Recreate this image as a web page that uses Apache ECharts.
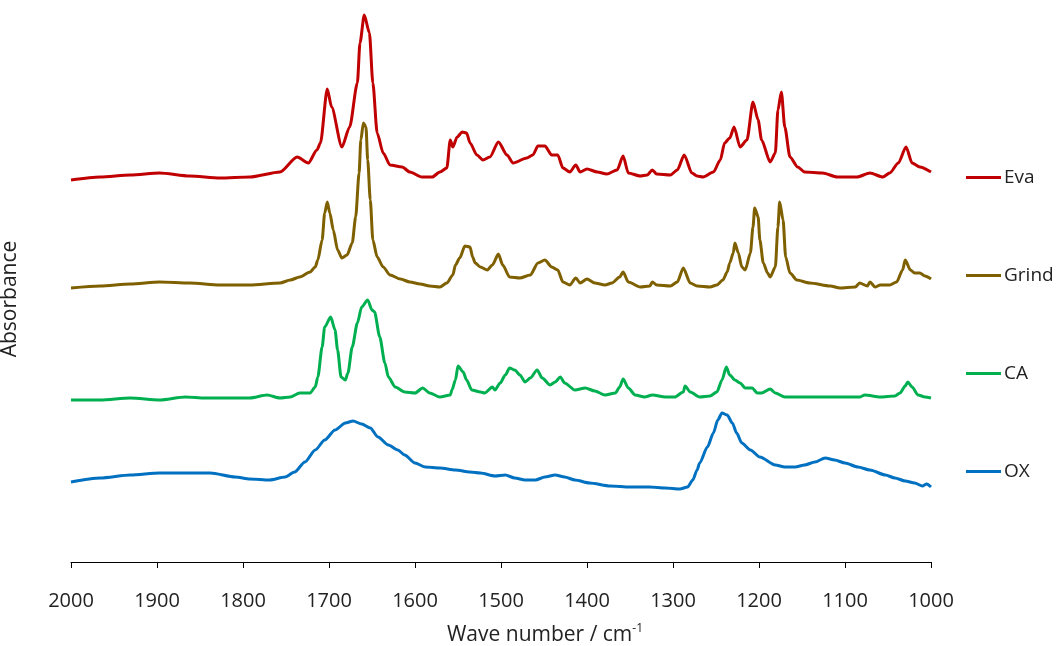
<!DOCTYPE html>
<html lang="en">

<head>
  <meta charset="utf-8">
  <title>FTIR spectra</title>
  <style>
    html, body {
      margin: 0;
      background-color: white;
    }

    .box {
      width: 1060px;
      height: 646px;
    }
  </style>
</head>

<body>
  <script type="text/javascript" src="https://cdn.jsdelivr.net/npm/echarts@6/dist/echarts.min.js"></script>

  <div class="box"></div>

  <script>
    // spectra: [wave number, absorbance (offset, a.u.)]
    var eva = [[2000,3.82],[1966,3.85],[1931,3.87],[1897,3.89],[1862,3.86],[1827,3.84],[1792,3.85],[1757,3.90],[1737,4.05],[1724,3.99],[1714,4.12],[1710,4.19],[1702,4.73],[1697,4.55],[1685,4.15],[1676,4.35],[1667,4.79],[1664,5.19],[1659,5.47],[1653,5.29],[1649,4.79],[1644,4.29],[1637,4.09],[1629,3.97],[1615,3.95],[1606,3.90],[1592,3.85],[1580,3.85],[1571,3.90],[1563,3.94],[1559,4.22],[1556,4.15],[1551,4.25],[1545,4.30],[1540,4.29],[1536,4.19],[1528,4.07],[1521,4.02],[1513,4.05],[1503,4.20],[1493,4.07],[1486,3.99],[1470,4.04],[1463,4.07],[1457,4.16],[1449,4.16],[1441,4.07],[1434,4.07],[1428,3.94],[1420,3.90],[1413,3.97],[1408,3.90],[1400,3.93],[1388,3.90],[1377,3.88],[1365,3.92],[1358,4.06],[1352,3.89],[1338,3.86],[1330,3.87],[1324,3.92],[1319,3.88],[1303,3.87],[1295,3.92],[1287,4.07],[1278,3.89],[1272,3.86],[1265,3.85],[1253,3.90],[1245,4.02],[1240,4.19],[1234,4.24],[1229,4.35],[1222,4.15],[1214,4.22],[1207,4.60],[1201,4.42],[1197,4.22],[1187,4.00],[1181,4.09],[1178,4.52],[1174,4.70],[1170,4.35],[1164,4.05],[1155,3.95],[1147,3.90],[1126,3.89],[1109,3.85],[1086,3.85],[1071,3.89],[1056,3.85],[1048,3.89],[1038,3.99],[1029,4.15],[1022,3.99],[1013,3.95],[1000,3.90]];

    var grind = [[2000,2.74],[1966,2.76],[1931,2.78],[1897,2.80],[1862,2.79],[1827,2.77],[1792,2.77],[1757,2.79],[1745,2.82],[1734,2.85],[1722,2.90],[1716,2.95],[1713,3.02],[1708,3.22],[1705,3.49],[1702,3.60],[1699,3.49],[1695,3.32],[1690,3.12],[1685,3.04],[1679,3.07],[1673,3.19],[1669,3.45],[1665,3.89],[1663,4.22],[1660,4.39],[1657,4.35],[1655,4.02],[1652,3.62],[1649,3.22],[1644,3.05],[1637,2.95],[1629,2.87],[1617,2.83],[1606,2.80],[1594,2.78],[1583,2.76],[1571,2.75],[1563,2.79],[1556,2.87],[1553,2.97],[1548,3.04],[1542,3.16],[1536,3.15],[1533,3.05],[1530,2.99],[1524,2.95],[1516,2.92],[1510,2.97],[1503,3.08],[1498,2.97],[1490,2.85],[1478,2.84],[1466,2.87],[1457,2.99],[1449,3.02],[1441,2.95],[1434,2.92],[1428,2.80],[1420,2.77],[1413,2.84],[1408,2.79],[1400,2.83],[1391,2.79],[1379,2.77],[1371,2.79],[1362,2.85],[1358,2.90],[1352,2.80],[1338,2.75],[1327,2.76],[1324,2.80],[1319,2.77],[1303,2.76],[1295,2.80],[1288,2.94],[1280,2.79],[1272,2.76],[1257,2.75],[1249,2.77],[1242,2.82],[1237,2.90],[1234,2.99],[1230,3.09],[1228,3.19],[1224,3.09],[1220,2.95],[1216,2.92],[1210,3.09],[1207,3.35],[1205,3.54],[1201,3.45],[1199,3.22],[1195,2.99],[1190,2.89],[1187,2.85],[1181,2.95],[1178,3.35],[1176,3.60],[1172,3.42],[1169,3.05],[1164,2.89],[1156,2.82],[1141,2.79],[1117,2.76],[1106,2.74],[1088,2.75],[1083,2.79],[1074,2.76],[1071,2.80],[1065,2.75],[1059,2.77],[1048,2.77],[1040,2.80],[1033,2.92],[1030,3.02],[1024,2.92],[1019,2.89],[1013,2.89],[1007,2.86],[1000,2.83]];

    var ca = [[2000,1.62],[1966,1.62],[1931,1.64],[1897,1.62],[1867,1.65],[1844,1.64],[1815,1.64],[1792,1.64],[1772,1.67],[1757,1.64],[1745,1.65],[1734,1.69],[1722,1.69],[1716,1.75],[1713,1.85],[1708,2.15],[1705,2.35],[1698,2.45],[1693,2.32],[1690,2.12],[1686,1.85],[1681,1.82],[1678,1.89],[1673,2.15],[1667,2.39],[1662,2.55],[1655,2.62],[1650,2.52],[1647,2.50],[1641,2.25],[1635,1.99],[1631,1.85],[1623,1.75],[1612,1.70],[1600,1.69],[1591,1.74],[1583,1.69],[1571,1.65],[1559,1.67],[1557,1.72],[1553,1.82],[1550,1.96],[1544,1.90],[1540,1.82],[1534,1.72],[1524,1.70],[1519,1.69],[1510,1.75],[1507,1.72],[1501,1.79],[1495,1.87],[1490,1.94],[1484,1.92],[1478,1.87],[1472,1.80],[1466,1.84],[1458,1.92],[1452,1.84],[1443,1.77],[1437,1.80],[1431,1.85],[1426,1.79],[1414,1.72],[1402,1.74],[1391,1.71],[1379,1.67],[1367,1.69],[1362,1.75],[1358,1.83],[1352,1.74],[1344,1.67],[1333,1.65],[1324,1.67],[1309,1.65],[1298,1.65],[1288,1.70],[1286,1.76],[1280,1.70],[1269,1.65],[1257,1.66],[1249,1.70],[1243,1.82],[1238,1.95],[1234,1.87],[1228,1.82],[1222,1.79],[1216,1.74],[1208,1.74],[1202,1.69],[1197,1.69],[1187,1.73],[1181,1.69],[1170,1.65],[1141,1.65],[1106,1.65],[1083,1.65],[1077,1.67],[1059,1.65],[1042,1.66],[1036,1.69],[1030,1.76],[1027,1.80],[1022,1.75],[1015,1.67],[1007,1.65],[1000,1.64]];

    var ox = [[2000,0.80],[1966,0.84],[1931,0.87],[1897,0.89],[1873,0.89],[1838,0.89],[1809,0.85],[1792,0.83],[1769,0.82],[1751,0.85],[1740,0.90],[1728,1.00],[1716,1.12],[1705,1.22],[1693,1.32],[1681,1.39],[1672,1.41],[1662,1.38],[1652,1.34],[1643,1.25],[1631,1.17],[1620,1.12],[1612,1.07],[1600,0.99],[1588,0.95],[1571,0.94],[1553,0.92],[1536,0.90],[1524,0.89],[1507,0.86],[1495,0.87],[1484,0.84],[1472,0.82],[1460,0.82],[1449,0.85],[1437,0.87],[1426,0.85],[1414,0.82],[1397,0.79],[1373,0.76],[1350,0.75],[1327,0.75],[1309,0.74],[1292,0.73],[1283,0.75],[1277,0.82],[1272,0.92],[1269,0.99],[1260,1.15],[1253,1.29],[1248,1.42],[1243,1.49],[1237,1.47],[1231,1.39],[1226,1.29],[1220,1.19],[1210,1.12],[1199,1.05],[1181,0.97],[1170,0.95],[1158,0.95],[1147,0.97],[1135,1.00],[1123,1.04],[1112,1.02],[1100,0.99],[1085,0.95],[1071,0.92],[1053,0.87],[1042,0.84],[1030,0.81],[1019,0.79],[1010,0.76],[1005,0.78],[1000,0.75]];

    var names = ['Eva', 'Grind', 'CA', 'OX'];
    var colors = ['#C00000', '#7F6000', '#00B050', '#0070C0'];
    var spectra = [eva, grind, ca, ox];

    var font = '"Open Sans", "Noto Sans", sans-serif';

    var box = document.querySelector('.box');
    var myChart = echarts.init(box);

    var series = [];
    for (var i = 0; i < names.length; i++) {
      series.push({
        name: names[i],
        type: 'line',
        data: spectra[i],
        showSymbol: false,
        smooth: 0.25,
        smoothMonotone: 'x',
        lineStyle: { width: 3, color: colors[i] },
        itemStyle: { color: colors[i] }
      });
    }

    var option = {
      animation: false,
      textStyle: { fontFamily: font },
      grid: { left: 71, right: 129, top: 12, bottom: 84, outerBoundsMode: 'none', containLabel: false },
      legend: {
        orient: 'vertical',
        left: 966,
        top: 168,
        padding: 0,
        data: names,
        icon: 'rect',
        itemWidth: 35,
        itemHeight: 3,
        itemGap: 79,
        textStyle: { fontFamily: font, fontSize: 19, color: '#222', lineHeight: 18, padding: [0, 0, 0, -2] }
      },
      xAxis: {
        type: 'value',
        min: 1000,
        max: 2000,
        interval: 100,
        inverse: true,
        name: 'Wave number / cm{sup|-1}',
        nameLocation: 'middle',
        nameGap: 61,
        nameTextStyle: {
          fontFamily: font,
          fontSize: 21,
          color: '#222',
          padding: [0, 0, 0, 88],
          rich: {
            sup: { fontSize: 12, color: '#222', padding: [0, 0, 12, 0] }
          }
        },
        axisLine: { lineStyle: { color: '#000', width: 1 } },
        axisTick: { length: 6, lineStyle: { color: '#000' } },
        axisLabel: {
          fontFamily: font,
          fontSize: 20,
          color: '#222',
          margin: 29,
          formatter: function (v) { return String(v); }
        },
        splitLine: { show: false }
      },
      yAxis: {
        type: 'value',
        min: 0,
        max: 5.5,
        name: 'Absorbance',
        nameLocation: 'middle',
        nameRotate: 90,
        nameGap: 50,
        nameTextStyle: { fontFamily: font, fontSize: 21, color: '#222', padding: [0, 0, 0, -24] },
        axisLine: { show: false },
        axisTick: { show: false },
        axisLabel: { show: false },
        splitLine: { show: false }
      },
      series: series
    };
    myChart.setOption(option);
  </script>

</body>

</html>
